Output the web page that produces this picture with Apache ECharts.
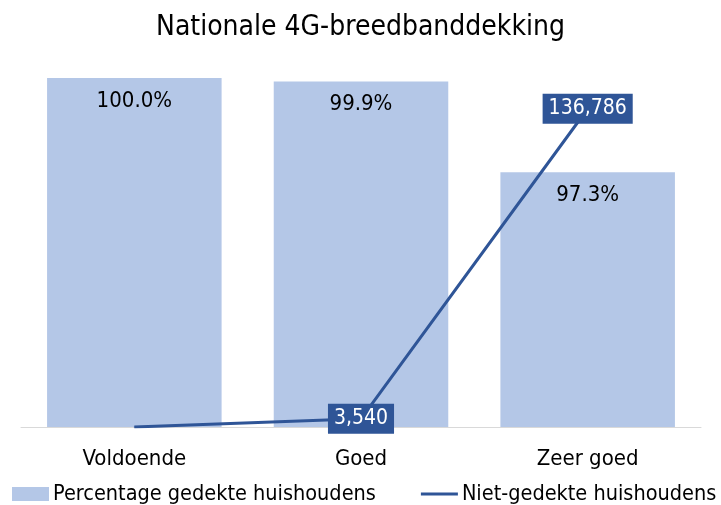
<!DOCTYPE html>
<html><head><meta charset="utf-8">
<script src="https://cdn.jsdelivr.net/npm/echarts@6/dist/echarts.min.js"></script>
<style>html,body{margin:0;padding:0;background:#fff}#c{width:721px;height:505px}</style>
</head><body><div id="c"></div>
<script>
var categories = ['Voldoende', 'Goed', 'Zeer goed'];
var coveragePct = [100.0, 99.9, 97.3];
var uncoveredHouseholds = [0, 3540, 136786];
var seriesNames = ['Percentage gedekte huishoudens', 'Niet-gedekte huishoudens'];
var titleText = 'Nationale 4G-breedbanddekking';

var FONT = '"DejaVu Sans Condensed", "DejaVu Sans", sans-serif';
var chart = echarts.init(document.getElementById('c'));
chart.setOption({
  animation: false,
  textStyle: { fontFamily: FONT },
  title: { text: titleText, left: 'center', top: 14, padding: 0,
    textStyle: { fontFamily: FONT, fontSize: 28, fontWeight: 'normal', color: '#000' } },
  grid: { left: 21, right: 20, top: 78, bottom: 78, containLabel: false },
  legend: {
    bottom: 0, left: 12, padding: 0, itemGap: 45, itemWidth: 37, itemHeight: 14,
    textStyle: { fontFamily: FONT, fontSize: 21.5, color: '#000', padding: [0,0,0,-1] },
    data: [
      { name: seriesNames[0], icon: 'rect' },
      { name: seriesNames[1], icon: 'path://M0,0H40V3H0Z' }
    ]
  },
  xAxis: {
    type: 'category', data: categories,
    axisLine: { lineStyle: { color: '#D9D9D9', width: 1 } },
    axisTick: { show: false },
    axisLabel: { fontFamily: FONT, fontSize: 22, color: '#000', margin: 21 }
  },
  yAxis: [
    { type: 'value', min: 90, max: 100, show: false, splitLine: { show: false } },
    { type: 'value', min: 0, max: 150000, show: false, splitLine: { show: false } }
  ],
  series: [
    {
      name: seriesNames[0], type: 'bar', yAxisIndex: 0, data: coveragePct,
      barCategoryGap: '23%',
      itemStyle: { color: '#B4C7E7' },
      label: { show: true, position: 'insideTop', distance: 12,
        fontFamily: FONT, fontSize: 22, color: '#000',
        formatter: function (p) { return p.value.toFixed(1) + '%'; } }
    },
    {
      name: seriesNames[1], type: 'line', yAxisIndex: 1,
      data: uncoveredHouseholds.map(function (v) {
        return { value: v, label: { show: v > 0 } };
      }),
      symbol: 'circle', symbolSize: 1,
      lineStyle: { color: '#2F5597', width: 3 },
      itemStyle: { color: '#2F5597' },
      label: { show: true, position: 'inside',
        fontFamily: FONT, fontSize: 21, color: '#fff',
        backgroundColor: '#2F5597', padding: [5, 6, 4, 6],
        formatter: function (p) { return p.value.toLocaleString('en-US'); } },
      z: 5
    }
  ]
});
</script></body></html>
